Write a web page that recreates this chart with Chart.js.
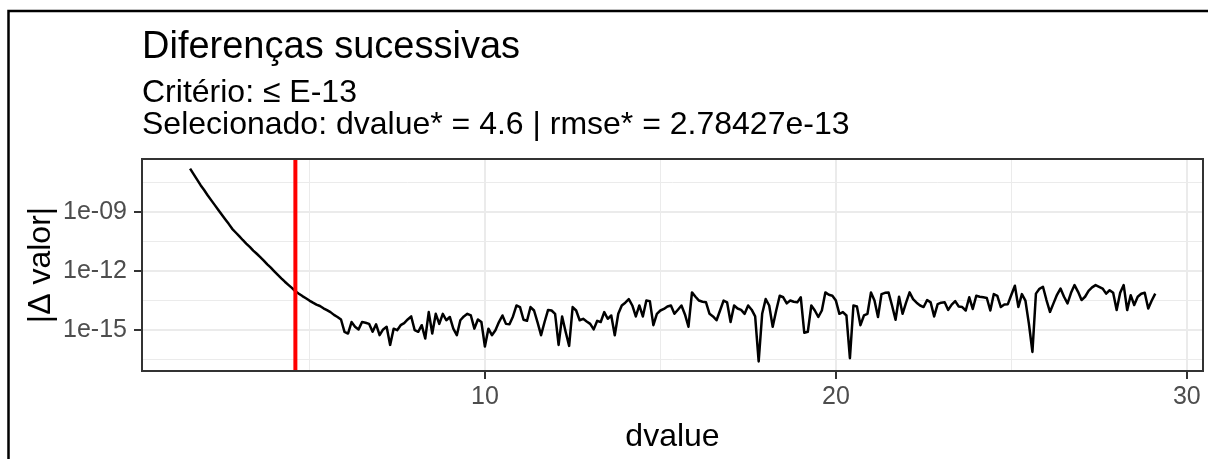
<!DOCTYPE html>
<html>
<head>
<meta charset="utf-8">
<script src="https://cdn.jsdelivr.net/npm/chart.js@4.4.1/dist/chart.umd.min.js"></script>
<style>
  html, body { margin: 0; padding: 0; background: #fff; overflow: hidden; }
  #wrap { width: 1208px; height: 459px; }
</style>
</head>
<body>
<div id="wrap"><canvas id="diffChart"></canvas></div>
<script>
const ctx = document.getElementById('diffChart').getContext('2d');

// passo dvalue
const dvalue = [
  1.6, 1.7, 1.8, 1.9,
  2.0, 2.1, 2.2, 2.3, 2.4, 2.5, 2.6, 2.7, 2.8, 2.9,
  3.0, 3.1, 3.2, 3.3, 3.4, 3.5, 3.6, 3.7, 3.8, 3.9,
  4.0, 4.1, 4.2, 4.3, 4.4, 4.5, 4.6, 4.7, 4.8, 4.9,
  5.0, 5.1, 5.2, 5.3, 5.4, 5.5, 5.6, 5.7, 5.8, 5.9,
  6.0, 6.1, 6.2, 6.3, 6.4, 6.5, 6.6, 6.7, 6.8, 6.9,
  7.0, 7.1, 7.2, 7.3, 7.4, 7.5, 7.6, 7.7, 7.8, 7.9,
  8.0, 8.1, 8.2, 8.3, 8.4, 8.5, 8.6, 8.7, 8.8, 8.9,
  9.0, 9.1, 9.2, 9.3, 9.4, 9.5, 9.6, 9.7, 9.8, 9.9,
  10.0, 10.1, 10.2, 10.3, 10.4, 10.5, 10.6, 10.7, 10.8, 10.9,
  11.0, 11.1, 11.2, 11.3, 11.4, 11.5, 11.6, 11.7, 11.8, 11.9,
  12.0, 12.1, 12.2, 12.3, 12.4, 12.5, 12.6, 12.7, 12.8, 12.9,
  13.0, 13.1, 13.2, 13.3, 13.4, 13.5, 13.6, 13.7, 13.8, 13.9,
  14.0, 14.1, 14.2, 14.3, 14.4, 14.5, 14.6, 14.7, 14.8, 14.9,
  15.0, 15.1, 15.2, 15.3, 15.4, 15.5, 15.6, 15.7, 15.8, 15.9,
  16.0, 16.1, 16.2, 16.3, 16.4, 16.5, 16.6, 16.7, 16.8, 16.9,
  17.0, 17.1, 17.2, 17.3, 17.4, 17.5, 17.6, 17.7, 17.8, 17.9,
  18.0, 18.1, 18.2, 18.3, 18.4, 18.5, 18.6, 18.7, 18.8, 18.9,
  19.0, 19.1, 19.2, 19.3, 19.4, 19.5, 19.6, 19.7, 19.8, 19.9,
  20.0, 20.1, 20.2, 20.3, 20.4, 20.5, 20.6, 20.7, 20.8, 20.9,
  21.0, 21.1, 21.2, 21.3, 21.4, 21.5, 21.6, 21.7, 21.8, 21.9,
  22.0, 22.1, 22.2, 22.3, 22.4, 22.5, 22.6, 22.7, 22.8, 22.9,
  23.0, 23.1, 23.2, 23.3, 23.4, 23.5, 23.6, 23.7, 23.8, 23.9,
  24.0, 24.1, 24.2, 24.3, 24.4, 24.5, 24.6, 24.7, 24.8, 24.9,
  25.0, 25.1, 25.2, 25.3, 25.4, 25.5, 25.6, 25.7, 25.8, 25.9,
  26.0, 26.1, 26.2, 26.3, 26.4, 26.5, 26.6, 26.7, 26.8, 26.9,
  27.0, 27.1, 27.2, 27.3, 27.4, 27.5, 27.6, 27.7, 27.8, 27.9,
  28.0, 28.1, 28.2, 28.3, 28.4, 28.5, 28.6, 28.7, 28.8, 28.9,
  29.0, 29.1
];

// |diferenca| entre avaliacoes sucessivas
const deltaValor = [
  1.6e-7, 8.3e-8, 4.4e-8, 2.3e-8,
  1.3e-8, 7.1e-9, 4.0e-9, 2.3e-9, 1.3e-9, 7.4e-10, 4.3e-10, 2.5e-10, 1.4e-10, 9.1e-11,
  5.9e-11, 3.8e-11, 2.5e-11, 1.7e-11, 1.1e-11, 7.6e-12, 5.1e-12, 3.4e-12, 2.2e-12, 1.5e-12,
  9.8e-13, 6.5e-13, 4.3e-13, 2.9e-13, 2.0e-13, 1.4e-13, 9.5e-14, 7.1e-14, 5.4e-14, 4.2e-14,
  3.2e-14, 2.5e-14, 2.0e-14, 1.7e-14, 1.3e-14, 1.05e-14, 8.3e-15, 6.0e-15, 4.7e-15, 3.5e-15,
  8.3e-16, 6.8e-16, 2.6e-15, 1.5e-15, 1.1e-15, 2.6e-15, 2.4e-15, 2.1e-15, 8.3e-16, 2.0e-15,
  5.6e-16, 1.1e-15, 1.5e-15, 1.8e-16, 1.2e-15, 1.0e-15, 1.8e-15, 2.3e-15, 3.5e-15, 5.0e-15,
  1.0e-15, 8.3e-16, 1.8e-15, 3.8e-16, 8.3e-15, 6.8e-16, 6.8e-15, 2.1e-15, 6.8e-15, 3.2e-15,
  4.7e-15, 1.2e-15, 5.6e-16, 3.2e-15, 5.0e-15, 6.8e-15, 5.6e-15, 1.2e-15, 3.5e-15, 2.6e-15,
  1.5e-16, 1.2e-15, 5.6e-16, 1.0e-15, 2.6e-15, 5.6e-15, 2.1e-15, 2.0e-15, 5.0e-15, 1.8e-14,
  1.5e-14, 3.4e-15, 3.0e-15, 1.5e-14, 1.0e-14, 2.5e-15, 5.6e-16, 2.6e-15, 1.07e-14, 1.0e-14,
  6.8e-15, 1.8e-16, 5.0e-15, 8.3e-16, 1.6e-16, 1.5e-14, 1.0e-14, 3.2e-15, 3.8e-15, 2.8e-15,
  2.1e-15, 1.1e-15, 3.0e-15, 2.6e-15, 8.3e-15, 3.8e-15, 5.6e-15, 5.6e-16, 6.8e-15, 1.8e-14,
  2.5e-14, 3.8e-14, 1.8e-14, 5.0e-15, 1.8e-14, 5.0e-15, 3.2e-14, 3.0e-14, 1.8e-15, 6.8e-15,
  1.0e-14, 1.2e-14, 1.6e-14, 1.8e-14, 6.8e-15, 1.1e-14, 1.8e-14, 6.3e-15, 1.5e-15, 8.3e-14,
  5.0e-14, 3.2e-14, 2.8e-14, 2.6e-14, 6.8e-15, 5.0e-15, 3.2e-15, 1.0e-14, 3.2e-14, 2.6e-14,
  2.6e-15, 1.8e-14, 1.26e-14, 1.07e-14, 6.8e-15, 1.8e-14, 1.1e-14, 5.0e-15, 2.6e-17, 6.8e-15,
  3.8e-14, 1.8e-14, 1.5e-15, 1.0e-14, 5.6e-14, 4.7e-14, 2.3e-14, 3.2e-14, 2.8e-14, 2.6e-14,
  4.7e-14, 7.4e-16, 8.3e-16, 1.8e-14, 1.0e-14, 4.7e-15, 1.0e-14, 8.3e-14, 6.3e-14, 5.6e-14,
  3.2e-14, 6.8e-15, 8.3e-15, 5.6e-15, 3.8e-17, 1.8e-14, 1.6e-14, 1.8e-15, 5.6e-15, 6.8e-15,
  8.3e-14, 3.2e-14, 4.7e-15, 6.8e-14, 7.9e-14, 8.3e-14, 1.8e-14, 3.4e-15, 5.0e-14, 6.8e-15,
  2.5e-14, 8.3e-14, 3.8e-14, 2.5e-14, 1.8e-14, 1.5e-14, 3.4e-14, 2.6e-14, 5.0e-15, 2.1e-14,
  2.5e-14, 2.6e-14, 1.07e-14, 2.0e-14, 3.0e-14, 1.6e-14, 1.5e-14, 1.0e-14, 4.7e-14, 1.2e-14,
  5.6e-14, 5.0e-14, 4.7e-14, 4.3e-14, 1.0e-14, 6.8e-14, 5.6e-14, 1.5e-14, 2.0e-14, 2.1e-14,
  6.3e-14, 1.8e-13, 1.5e-14, 6.8e-14, 3.2e-14, 2.1e-15, 7.9e-17, 7.2e-14, 1.26e-13, 1.6e-13,
  3.4e-14, 8.5e-15, 2.3e-14, 6.3e-14, 1.3e-13, 5.0e-14, 2.3e-14, 7.9e-14, 1.95e-13, 8.9e-14,
  3.4e-14, 5.0e-14, 1.0e-13, 1.5e-13, 1.95e-13, 1.6e-13, 1.3e-13, 7.2e-14, 1.07e-13, 7.9e-14,
  1.05e-14, 7.9e-14, 1.95e-13, 1.05e-14, 6.0e-14, 1.9e-14, 5.0e-14, 7.1e-14, 7.9e-14, 1.26e-14,
  3.2e-14, 7.2e-14
];

const dvalueSel = 4.6;
const rmseSel = '2.78427e-13';

const xTicks = [5, 10, 15, 20, 25, 30];
const yTickExp = [-16.5, -15, -13.5, -12, -10.5, -9, -7.5];

const xLimits = [0.23, 30.46];
const yLimitExp = [-17.07, -6.31];
const yMin = Math.pow(10, yLimitExp[0]);
const yMax = Math.pow(10, yLimitExp[1]);

const FONT = '"Liberation Sans", Arial, Helvetica, sans-serif';

const isMajorX = v => v % 10 === 0;
const isMajorY = v => {
  const e = Math.log10(v);
  return Math.abs(e - Math.round(e)) < 1e-6;
};

// fundo, moldura externa, titulo/subtitulo e borda do painel
const frame = {
  id: 'frame',
  beforeDraw(chart) {
    const c = chart.ctx;
    const left = chart.chartArea.left;
    c.save();
    c.fillStyle = '#ffffff';
    c.fillRect(0, 0, chart.width, chart.height);
    c.strokeStyle = '#000000';
    c.lineWidth = 2.5;
    c.beginPath();
    c.moveTo(8.5, chart.height + 5);
    c.lineTo(8.5, 11);
    c.lineTo(chart.width + 5, 11);
    c.stroke();
    c.fillStyle = '#000000';
    c.textBaseline = 'alphabetic';
    c.textAlign = 'left';
    c.font = '38px ' + FONT;
    c.fillText('Diferenças sucessivas', left, 58);
    c.font = '32px ' + FONT;
    c.fillText('Critério: ≤ E-13', left, 102);
    c.fillText('Selecionado: dvalue* = ' + dvalueSel + ' | rmse* = ' + rmseSel, left, 134);
    c.restore();
  },
  afterDatasetsDraw(chart) {
    const c = chart.ctx;
    const {left, top, width, height} = chart.chartArea;
    c.save();
    c.strokeStyle = '#333333';
    c.lineWidth = 2;
    c.strokeRect(left, top, width, height);
    c.restore();
  }
};

const chart = new Chart(ctx, {
  type: 'scatter',
  data: {
    datasets: [
      {
        label: 'dvalue*',
        data: [{x: dvalueSel, y: yMin}, {x: dvalueSel, y: yMax}],
        showLine: true,
        borderColor: '#FF0000',
        borderWidth: 4,
        pointRadius: 0
      },
      {
        label: '|Δ valor|',
        data: dvalue.map((d, i) => ({x: d, y: deltaValor[i]})),
        showLine: true,
        borderColor: '#000000',
        borderWidth: 2.5,
        borderJoinStyle: 'round',
        pointRadius: 0,
        tension: 0
      }
    ]
  },
  options: {
    responsive: true,
    maintainAspectRatio: false,
    animation: false,
    devicePixelRatio: 1,
    layout: {
      autoPadding: false,
      padding: {top: 159, left: 8, right: 5, bottom: 0}
    },
    plugins: {
      legend: {display: false},
      tooltip: {enabled: false}
    },
    scales: {
      x: {
        type: 'linear',
        min: xLimits[0],
        max: xLimits[1],
        afterBuildTicks: s => { s.ticks = xTicks.map(v => ({value: v})); },
        afterFit: s => { s.height = 88; },
        border: {display: false},
        grid: {
          color: '#EBEBEB',
          lineWidth: c => isMajorX(c.tick.value) ? 2 : 1,
          tickColor: c => isMajorX(c.tick.value) ? '#333333' : 'rgba(0,0,0,0)',
          tickWidth: 2,
          tickLength: 8
        },
        ticks: {
          autoSkip: false,
          maxRotation: 0,
          padding: 3,
          color: '#4D4D4D',
          font: {family: FONT, size: 25},
          callback: v => isMajorX(v) ? String(v) : ''
        },
        title: {
          display: true,
          text: 'dvalue',
          color: '#000000',
          font: {family: FONT, size: 32},
          padding: {top: 0, bottom: 3}
        }
      },
      y: {
        type: 'logarithmic',
        min: yMin,
        max: yMax,
        afterBuildTicks: s => { s.ticks = yTickExp.map(e => ({value: Math.pow(10, e)})); },
        afterFit: s => { s.width = 134; },
        border: {display: false},
        grid: {
          color: '#EBEBEB',
          lineWidth: c => isMajorY(c.tick.value) ? 2 : 1,
          tickColor: c => isMajorY(c.tick.value) ? '#333333' : 'rgba(0,0,0,0)',
          tickWidth: 2,
          tickLength: 8
        },
        ticks: {
          autoSkip: false,
          padding: 7,
          color: '#4D4D4D',
          font: {family: FONT, size: 25},
          callback: v => {
            if (!isMajorY(v)) return '';
            const e = Math.round(Math.log10(v));
            return '1e-' + String(-e).padStart(2, '0');
          }
        },
        title: {
          display: true,
          text: '|Δ valor|',
          color: '#000000',
          font: {family: FONT, size: 32},
          padding: {top: 14, bottom: 0}
        }
      }
    }
  },
  plugins: [frame]
});
</script>
</body>
</html>
